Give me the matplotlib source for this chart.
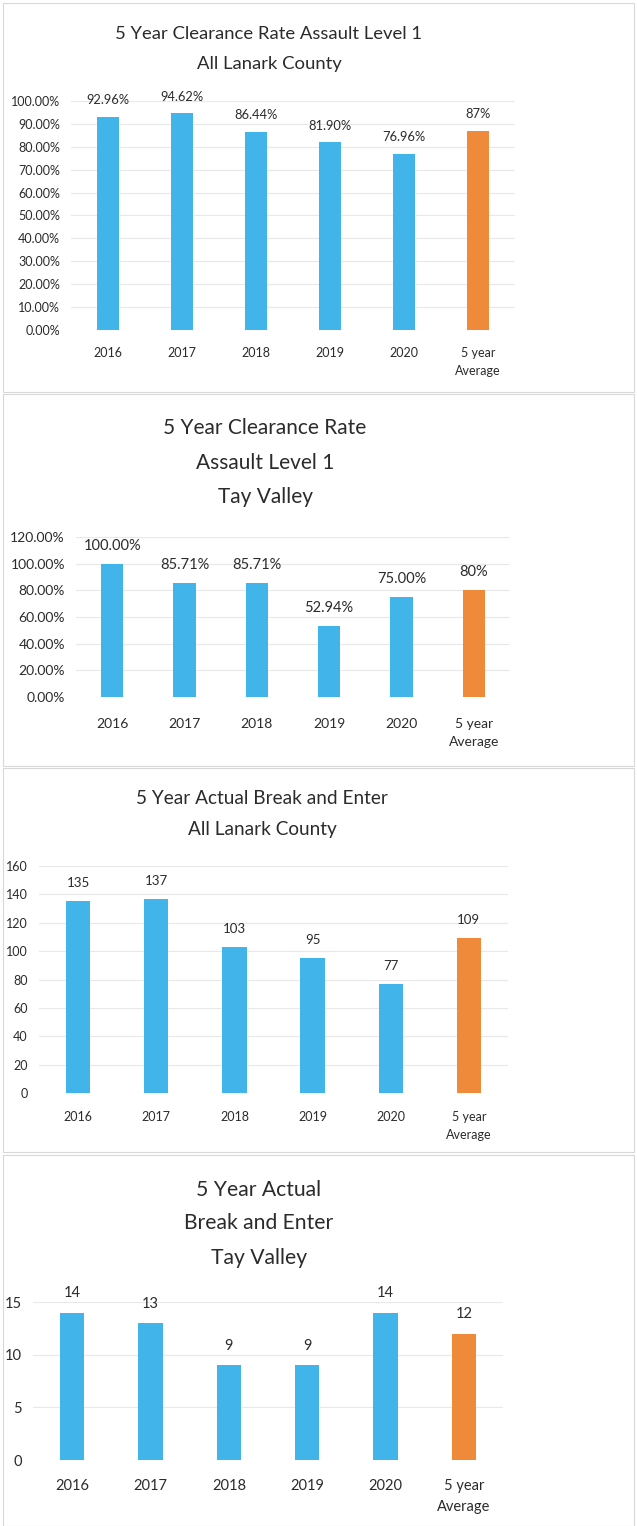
import matplotlib
matplotlib.use('Agg')
from matplotlib import pyplot as plt
from matplotlib.patches import Rectangle

plt.rcParams['font.family'] = ['Lato', 'DejaVu Sans']

W, H = 637, 1526
DPI = 100

categories = ['2016', '2017', '2018', '2019', '2020', '5 year\nAverage']

lanark_assault = [0.9296, 0.9462, 0.8644, 0.8190, 0.7696, 0.87]
tay_assault = [1.00, 0.8571, 0.8571, 0.5294, 0.75, 0.80]
lanark_bne = [135, 137, 103, 95, 77, 109]
tay_bne = [14, 13, 9, 9, 14, 12]

titles = [
    ['5 Year Clearance Rate Assault Level 1', 'All Lanark County'],
    ['5 Year Clearance Rate', 'Assault Level 1', 'Tay Valley'],
    ['5 Year Actual Break and Enter', 'All Lanark County'],
    ['5 Year Actual', 'Break and Enter', 'Tay Valley'],
]

BLUE = '#41B4EA'
ORANGE = '#F08A3B'
GRID = '#e8e8e8'
TXT = '#2b2b2b'


def _px_axes(fig, left, right, y0, ytop):
    return fig.add_axes([left / W, 1 - y0 / H, (right - left) / W, (y0 - ytop) / H])


def _panel(fig, box, title_lines, title_ys, title_x, axbox, values, ylim, step,
           tickfmt, labelfmt, avgfmt, fs_tick, fs_lab, fs_title, xpad=12, lab_off=14):
    x0, y0, x1, y1 = box
    fig.patches.append(Rectangle((x0 / W, 1 - y1 / H), (x1 - x0) / W, (y1 - y0) / H,
                                 transform=fig.transFigure, facecolor='white',
                                 edgecolor='#d8d8d8', linewidth=0.8, zorder=-5))
    for line, ty in zip(title_lines, title_ys):
        fig.text(title_x / W, 1 - ty / H, line, ha='center', va='center',
                 fontsize=fs_title, color=TXT)

    ax = _px_axes(fig, *axbox)
    ax.set_zorder(2)
    ax.set_facecolor('none')
    xs = list(range(len(values)))
    colors = [BLUE] * (len(values) - 1) + [ORANGE]
    ax.bar(xs, values, width=0.31, color=colors, zorder=3)
    ax.set_xlim(-0.5, len(values) - 0.5)
    ax.set_ylim(*ylim)
    ticks = []
    t = ylim[0]
    while t <= ylim[1] + 1e-9:
        ticks.append(t)
        t += step
    ax.set_yticks(ticks)
    ax.set_yticklabels([tickfmt(v) for v in ticks], fontsize=fs_tick, color=TXT)
    ax.set_xticks(xs)
    ax.set_xticklabels(categories, fontsize=fs_tick, color=TXT, linespacing=1.6)
    ax.tick_params(axis='both', length=0)
    ax.tick_params(axis='x', pad=xpad)
    ax.tick_params(axis='y', pad=8)
    for s in ax.spines.values():
        s.set_visible(False)
    ax.grid(axis='y', color=GRID, linewidth=0.8, zorder=0)
    for i, v in enumerate(values):
        lab = avgfmt(v) if i == len(values) - 1 else labelfmt(v)
        ax.annotate(lab, (i, v), xytext=(0, lab_off), textcoords='offset points',
                    ha='center', va='center', fontsize=fs_lab, color=TXT)
    return ax


fig = plt.figure(figsize=(W / DPI, H / DPI), dpi=DPI)

_panel(fig, (3, 3, 634, 392), titles[0], [34, 64], 269, (71, 515, 330, 101),
       lanark_assault, (0, 1.0), 0.1,
       lambda v: '%.2f%%' % (v * 100), lambda v: '%.2f%%' % (v * 100),
       lambda v: '%.0f%%' % (v * 100), 9, 9.3, 13.3, xpad=12, lab_off=12)

_panel(fig, (3, 394, 634, 766), titles[1], [428, 463, 497], 265, (76, 510, 697, 537),
       tay_assault, (0, 1.2), 0.2,
       lambda v: '%.2f%%' % (v * 100), lambda v: '%.2f%%' % (v * 100),
       lambda v: '%.0f%%' % (v * 100), 10, 10.5, 15, xpad=15, lab_off=13)

_panel(fig, (3, 768, 634, 1152), titles[2], [798, 829], 262, (39, 508, 1093, 866),
       lanark_bne, (0, 160), 20,
       lambda v: '%d' % v, lambda v: '%d' % v, lambda v: '%d' % v, 9, 9.5, 13.7,
       xpad=13, lab_off=13)

_panel(fig, (3, 1155, 634, 1526), titles[3], [1190, 1223, 1258], 259, (33, 503, 1460, 1302),
       tay_bne, (0, 15), 5,
       lambda v: '%d' % v, lambda v: '%d' % v, lambda v: '%d' % v, 10.5, 10.5, 15.2,
       xpad=14, lab_off=14)

fig.savefig('out.png', dpi=DPI, facecolor='white')
